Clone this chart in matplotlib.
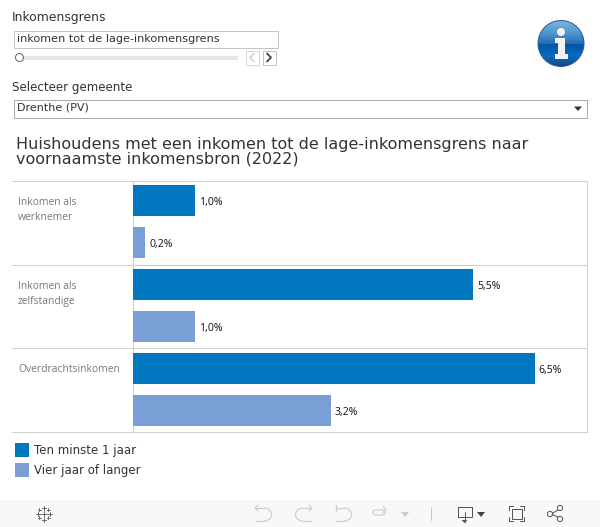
"""Huishoudens met een laag inkomen naar inkomensbron, with the dashboard widgets around it."""

import matplotlib

matplotlib.use("Agg")
import matplotlib.pyplot as plt
import numpy as np
from matplotlib.patches import Arc, Circle, FancyBboxPatch, Polygon, Rectangle

categories = ["Inkomen als\nwerknemer", "Inkomen als\nzelfstandige", "Overdrachtsinkomen"]
series_names = ["Ten minste 1 jaar", "Vier jaar of langer"]
ten_minste = [1.0, 5.5, 6.5]
vier_jaar = [0.2, 1.0, 3.2]
value_labels_a = ["1,0%", "5,5%", "6,5%"]
value_labels_b = ["0,2%", "1,0%", "3,2%"]
title = "Huishoudens met een inkomen tot de lage-inkomensgrens naar\nvoornaamste inkomensbron (2022)"

BLUE = "#0077bf"
LIGHT = "#7a9fd6"
RULE = "#cfcfcf"
TEXT = "#333333"
PX = 0.72  # one pixel in points
W, H = 600, 527

fig = plt.figure(figsize=(W / 100, H / 100), dpi=100)

# pixel canvas for everything that is not the bars
bg = fig.add_axes([0, 0, 1, 1])
bg.set_xlim(0, W)
bg.set_ylim(H, 0)
bg.axis("off")


def box(x, y, w, h, edge="#b5b5b5", face="white", lw=PX):
    bg.add_patch(Rectangle((x, y), w, h, facecolor=face, edgecolor=edge, linewidth=lw))


def ln(xs, ys, color="#b9b9b9", lw=PX):
    bg.plot(xs, ys, color=color, linewidth=lw, solid_capstyle="round")


# filters
bg.text(12, 17, "Inkomensgrens", fontsize=8.9, color=TEXT, va="center")
box(13.5, 30.5, 264, 17, edge="#c4c4c4")
bg.text(17, 38.5, "inkomen tot de lage-inkomensgrens", fontsize=8.1, color=TEXT, va="center")
bg.add_patch(Rectangle((20, 56), 218, 4, facecolor="#e6e6e6", edgecolor="none"))
bg.add_patch(Circle((19.5, 57.5), 4, facecolor="white", edgecolor="#666666", linewidth=PX, zorder=3))
box(245.5, 50.5, 13, 14, edge="#d8d8d8")
box(262.5, 50.5, 13, 14, edge="#c4c4c4")
ln([254, 250, 254], [53.5, 57.5, 61.5], color="#cccccc", lw=1.0)
ln([267, 271, 267], [53.5, 57.5, 61.5], color="#444444", lw=1.3)

bg.text(12, 87, "Selecteer gemeente", fontsize=8.6, color=TEXT, va="center")
box(13.5, 99.5, 573, 18, edge="#aaaaaa")
bg.text(17, 108, "Drenthe (PV)", fontsize=8, color=TEXT, va="center")
bg.add_patch(Polygon([[574, 106.5], [582, 106.5], [578, 111]], facecolor="#333333", edgecolor="none"))

# info icon
disc = Circle((561, 43.5), 23, transform=bg.transData, facecolor="none", edgecolor="#2a5d96", linewidth=PX, zorder=4)
stops = [0.0, 0.3, 0.52, 0.53, 0.8, 1.0]
gradient = np.linspace(0, 1, 92)
rgb = np.stack(
    [
        np.interp(gradient, stops, [0.50, 0.30, 0.12, 0.00, 0.03, 0.08]),
        np.interp(gradient, stops, [0.72, 0.58, 0.42, 0.33, 0.42, 0.27]),
        np.interp(gradient, stops, [0.87, 0.80, 0.70, 0.65, 0.76, 0.52]),
    ],
    axis=-1,
)[:, None, :]
img = bg.imshow(rgb, extent=(538, 584, 66.5, 20.5), aspect="auto", zorder=3)
img.set_clip_path(disc)
bg.add_patch(disc)
bg.add_patch(Circle((561, 32), 4, facecolor="#f2f2f2", edgecolor="none", zorder=5))
bg.add_patch(Polygon([[555, 38], [565, 38], [565, 54], [568, 54], [568, 58.5], [555, 58.5], [555, 54], [558, 54], [558, 42.5], [555, 42.5]],
                     facecolor="#f2f2f2", edgecolor="none", zorder=5))
bg.set_xlim(0, W)
bg.set_ylim(H, 0)

bg.text(16, 152, title, fontsize=11.5, color=TEXT, va="center", linespacing=0.92)

# bars: one axes spanning the panel, one row every 42 px
top, bottom, left, right = 180.5, 431.5, 133, 587
ax = fig.add_axes([left / W, 1 - bottom / H, (right - left) / W, (bottom - top) / H])
ax.patch.set_alpha(0)
row = np.arange(len(categories))
y_a = row * 2
y_b = row * 2 + 1
bar_h = 31 / 42
ax.barh(y_a, ten_minste, height=bar_h, color=BLUE, label=series_names[0], zorder=3)
ax.barh(y_b, vier_jaar, height=bar_h, color=LIGHT, label=series_names[1], zorder=3)
ax.set_xlim(0, (right - left) / 61.8)
ax.set_ylim(5 + 21 / 42, -20 / 42)
ax.set_xticks([])
ax.set_yticks([])
for spine in ax.spines.values():
    spine.set_visible(False)

value_font = ["Open Sans", "DejaVu Sans"]
for y, v, s in zip(y_a, ten_minste, value_labels_a):
    ax.annotate(s, (v, y), xytext=(3, -1.2), textcoords="offset points", va="center",
                fontsize=7.6, family=value_font, color="#111111")
for y, v, s in zip(y_b, vier_jaar, value_labels_b):
    ax.annotate(s, (v, y), xytext=(3, -1.2), textcoords="offset points", va="center",
                fontsize=7.6, family=value_font, color="#111111")

# panel rules and row headers
for y in [180.5, 264.5, 347.5, 431.5]:
    ln([12, 587], [y, y], color=RULE)
ln([587, 587], [180.5, 431.5], color=RULE)
ln([132.5, 132.5], [180.5, 431.5], color=RULE)
for y, name in zip([210, 294, 369], categories):
    bg.text(18, y, name, fontsize=7.4, family=value_font, color="#777777", va="center", linespacing=1.6)

# legend
for y, color, name in zip([443, 463], [BLUE, LIGHT], series_names):
    bg.add_patch(Rectangle((15, y), 14, 14, facecolor=color, edgecolor="none"))
    bg.text(34, y + 7.5, name, fontsize=8.5, color=TEXT, va="center")

# toolbar
bg.add_patch(Rectangle((0, 500), W, 27, facecolor="#f8f8f8", edgecolor="none"))
for cx, cy, r in [(43.5, 513.5, 3), (37.5, 513.5, 2), (49.5, 513.5, 2), (43.5, 507.5, 2), (43.5, 519.5, 2),
                  (39, 509.5, 1.5), (48, 509.5, 1.5), (39, 517.5, 1.5), (48, 517.5, 1.5)]:
    ln([cx - r, cx + r], [cy, cy], color="#666666", lw=0.7)
    ln([cx, cx], [cy - r, cy + r], color="#666666", lw=0.7)

icon = "#cfcfcf"
bg.add_patch(Arc((264, 514.5), 15, 13, theta1=-90, theta2=90, color=icon, lw=0.9))
ln([256, 264], [508, 508], icon, 0.9); ln([256, 264], [521, 521], icon, 0.9); ln([258, 255, 258], [505, 508, 511], icon, 0.9)
bg.add_patch(Arc((303, 514.5), 15, 13, theta1=90, theta2=270, color=icon, lw=0.9))
ln([303, 311], [508, 508], icon, 0.9); ln([303, 311], [521, 521], icon, 0.9); ln([309, 312, 309], [505, 508, 511], icon, 0.9)
bg.add_patch(Arc((344, 514.5), 15, 13, theta1=-90, theta2=90, color=icon, lw=0.9))
ln([336, 344], [508, 508], icon, 0.9); ln([336, 344], [521, 521], icon, 0.9); ln([336, 336], [505, 511], icon, 0.9)
bg.add_patch(FancyBboxPatch((373, 510), 12, 5, boxstyle="round,pad=0,rounding_size=2.5", facecolor="none", edgecolor=icon, linewidth=0.9))
ln([383, 386, 383], [506.5, 509.5, 512.5], icon, 0.9)
bg.add_patch(Polygon([[401, 512], [409, 512], [405, 517]], facecolor="#cccccc", edgecolor="none"))
ln([431, 431], [507, 520], "#c8c8c8", PX)
ln([465, 457.5, 457.5, 471.5, 471.5, 464], [517, 517, 506.5, 506.5, 517, 517], "#555555", PX)
ln([464.5, 464.5], [512, 522], "#555555", PX)
bg.add_patch(Polygon([[461.5, 520], [467.5, 520], [464.5, 523]], facecolor="#555555", edgecolor="none"))
bg.add_patch(Polygon([[477, 512], [485, 512], [481, 517]], facecolor="#444444", edgecolor="none"))
box(511.5, 508.5, 10, 10, edge="#555555", face="none")
for x, sx in [(508.5, 1), (524, -1)]:
    for y, sy in [(506, 1), (521, -1)]:
        ln([x, x, x + 4 * sx], [y + 4 * sy, y, y], "#555555", PX)
ln([551, 560], [514, 509], "#555555", PX)
ln([551, 560], [514, 518], "#555555", PX)
for cx, cy in [(550, 514), (560, 508), (560, 519)]:
    bg.add_patch(Circle((cx, cy), 2.6, facecolor="#f8f8f8", edgecolor="#555555", linewidth=PX, zorder=4))

fig.savefig("out.png", dpi=100)
plt.close(fig)
